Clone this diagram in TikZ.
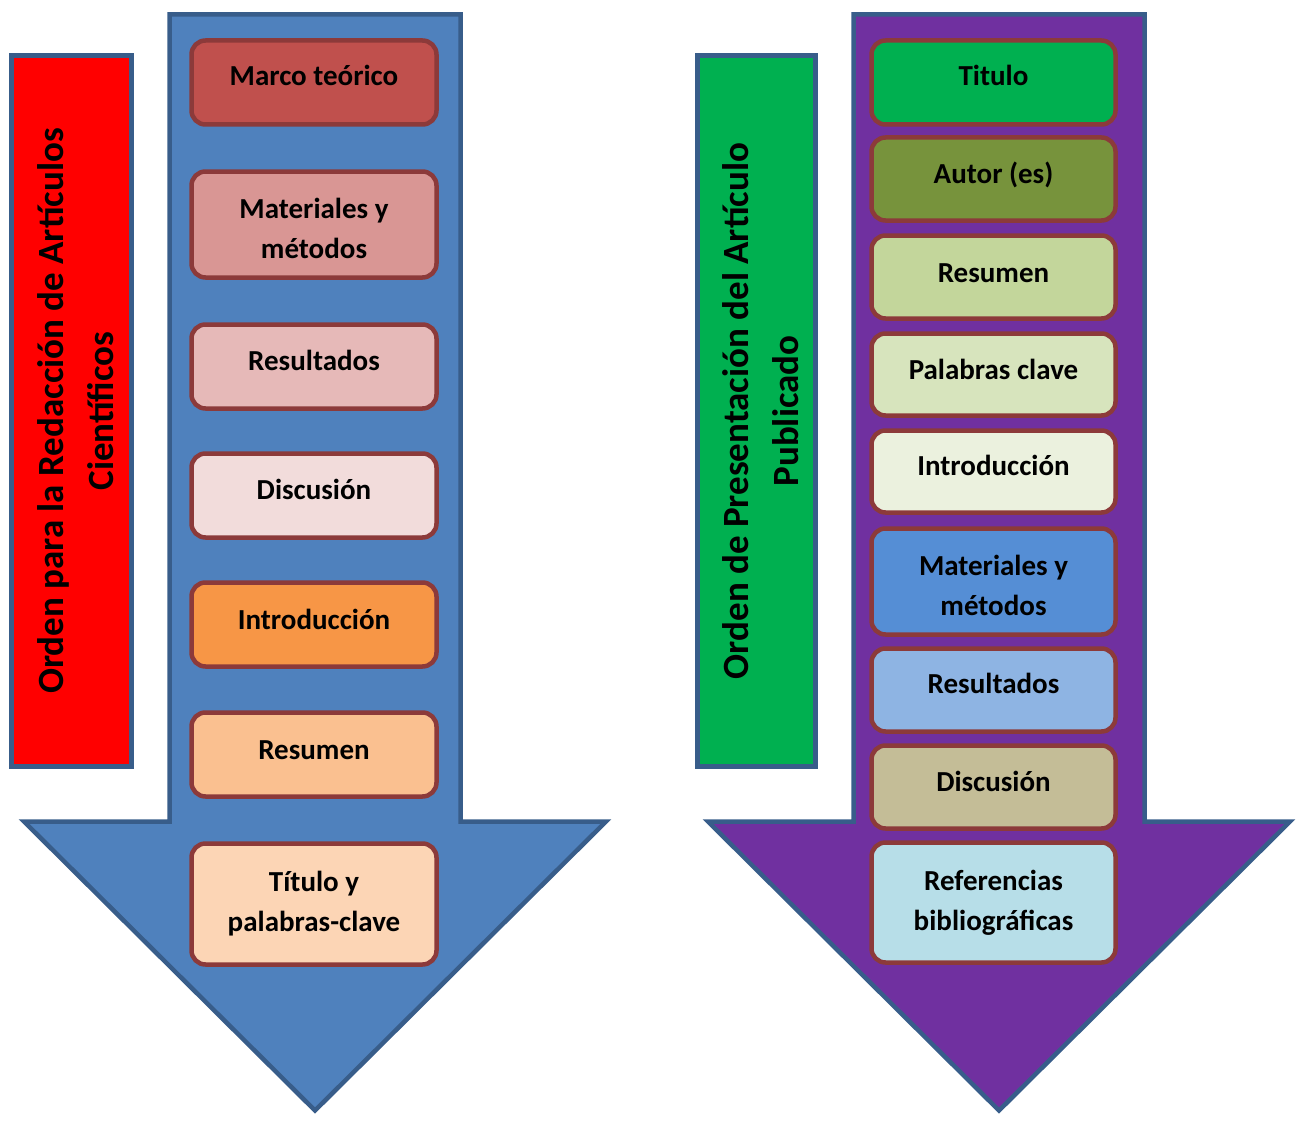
\documentclass[tikz,border=0pt]{standalone}
\usepackage{fontspec}
\setmainfont{Carlito}
\definecolor{arrblue}{HTML}{4F81BD}
\definecolor{arrpurple}{HTML}{7030A0}
\definecolor{edgeblue}{HTML}{385D8A}
\definecolor{edgered}{HTML}{8C3A3A}
\definecolor{lA}{HTML}{C0504D}
\definecolor{lB}{HTML}{D99694}
\definecolor{lC}{HTML}{E6B9B8}
\definecolor{lD}{HTML}{F2DCDB}
\definecolor{lE}{HTML}{F79646}
\definecolor{lF}{HTML}{FAC090}
\definecolor{lG}{HTML}{FCD5B5}
\definecolor{rA}{HTML}{00B050}
\definecolor{rB}{HTML}{77933C}
\definecolor{rC}{HTML}{C3D69B}
\definecolor{rD}{HTML}{D7E4BD}
\definecolor{rE}{HTML}{EBF1DE}
\definecolor{rF}{HTML}{558ED5}
\definecolor{rG}{HTML}{8EB4E3}
\definecolor{rH}{HTML}{C4BD97}
\definecolor{rI}{HTML}{B7DEE8}
\begin{document}
\begin{tikzpicture}[x=1pt,y=-1pt,
  bigarrow/.style={draw=edgeblue,line width=4.5pt,line join=miter},
  sidebar/.style={draw=edgeblue,line width=4.5pt},
  itembox/.style={draw=edgered,line width=4.5pt,rounded corners=14pt,inner sep=0pt},
  itemtext/.style={font=\fontsize{29}{40}\selectfont\bfseries,inner sep=0pt,anchor=base},
  sidetext/.style={font=\fontsize{37}{50}\selectfont\bfseries,inner sep=0pt,anchor=base,rotate=90}]
\useasboundingbox (0,0) rectangle (1298,1121);
% left arrow
\draw[bigarrow,fill=arrblue] (169.5,14.5) -- (460.5,14.5) -- (460.5,821.5) -- (606,821.5)
  -- (315,1110.5) -- (24,821.5) -- (169.5,821.5) -- cycle;
% right arrow
\draw[bigarrow,fill=arrpurple] (853.5,14.5) -- (1144.5,14.5) -- (1144.5,821.5) -- (1290,821.5)
  -- (999,1110.5) -- (708,821.5) -- (853.5,821.5) -- cycle;
% side bars
\draw[sidebar,fill=red] (11.5,55.5) rectangle (131.5,766.5);
\draw[sidebar,fill=rA] (697.5,55.5) rectangle (815.5,766.5);
\node[sidetext] (t1a) at (63,411) {Orden para la Redacción de Artículos};
\node[sidetext] (t1b) at (113,411) {Científicos};
\node[sidetext] (t2a) at (748,411) {Orden de Presentación del Artículo};
\node[sidetext] (t2b) at (798,411) {Publicado};
% left boxes
\draw[itembox,fill=lA] (191.5,40.5) rectangle (436.5,124.5);
\draw[itembox,fill=lB] (191.5,171.5) rectangle (436.5,277.5);
\draw[itembox,fill=lC] (191.5,324.5) rectangle (436.5,408.5);
\draw[itembox,fill=lD] (191.5,453.5) rectangle (436.5,537.5);
\draw[itembox,fill=lE] (191.5,582.5) rectangle (436.5,666.5);
\draw[itembox,fill=lF] (191.5,712.5) rectangle (436.5,796.5);
\draw[itembox,fill=lG] (191.5,843.5) rectangle (436.5,964.5);
\node[itemtext] (L1) at (314,86) {Marco teórico};
\node[itemtext] (L2a) at (314,218) {Materiales y};
\node[itemtext] (L2b) at (314,258) {métodos};
\node[itemtext] (L3) at (314,370) {Resultados};
\node[itemtext] (L4) at (314,499) {Discusión};
\node[itemtext] (L5) at (314,629) {Introducción};
\node[itemtext] (L6) at (314,759) {Resumen};
\node[itemtext] (L7a) at (314,891) {Título y};
\node[itemtext] (L7b) at (314,931) {palabras-clave};
% right boxes
\draw[itembox,fill=rA] (871.5,40.5) rectangle (1115.5,124.5);
\draw[itembox,fill=rB] (871.5,137.5) rectangle (1115.5,220.5);
\draw[itembox,fill=rC] (871.5,235.5) rectangle (1115.5,318.5);
\draw[itembox,fill=rD] (871.5,333.5) rectangle (1115.5,415.5);
\draw[itembox,fill=rE] (871.5,430.5) rectangle (1115.5,512.5);
\draw[itembox,fill=rF] (871.5,528.5) rectangle (1115.5,634.5);
\draw[itembox,fill=rG] (871.5,648.5) rectangle (1115.5,731.5);
\draw[itembox,fill=rH] (871.5,745.5) rectangle (1115.5,828.5);
\draw[itembox,fill=rI] (871.5,842.5) rectangle (1115.5,962.5);
\node[itemtext] (R1) at (993.5,86) {Titulo};
\node[itemtext] (R2) at (993.5,183) {Autor (es)};
\node[itemtext] (R3) at (993.5,282) {Resumen};
\node[itemtext] (R4) at (993.5,379) {Palabras clave};
\node[itemtext] (R5) at (993.5,475) {Introducción};
\node[itemtext] (R6a) at (993.5,575) {Materiales y};
\node[itemtext] (R6b) at (993.5,615) {métodos};
\node[itemtext] (R7) at (993.5,693) {Resultados};
\node[itemtext] (R8) at (993.5,791) {Discusión};
\node[itemtext] (R9a) at (993.5,890) {Referencias};
\node[itemtext] (R9b) at (993.5,930) {bibliográficas};
\end{tikzpicture}
\end{document}
